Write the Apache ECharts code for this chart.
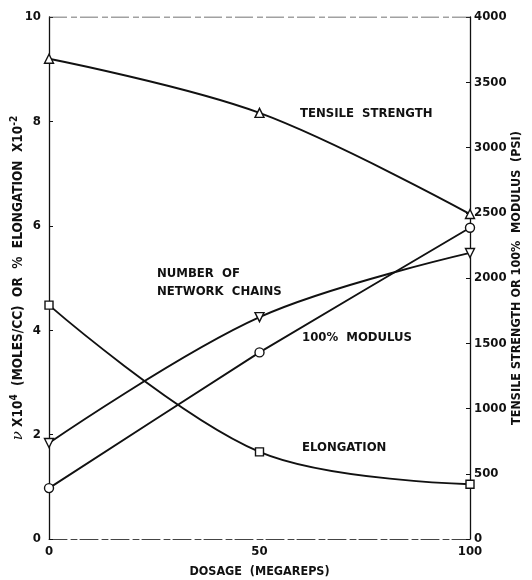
<!DOCTYPE html>
<html><head><meta charset="utf-8">
<script src="https://cdn.jsdelivr.net/npm/echarts@6/dist/echarts.min.js"></script>
<style>html,body{margin:0;padding:0;background:#fff}#c{width:532px;height:580px}</style>
</head><body><div id="c"></div>
<script>
const dosage = [0, 50, 100];
const tensileStrength = [3680, 3265, 2490];   // psi (right axis)
const modulus100 = [390, 1430, 2385];         // psi (right axis)
const networkChains = [1.84, 4.25, 5.48];     // v x10^4 (left axis)
const elongation = [4.48, 1.67, 1.05];        // % elongation x10^-2 (left axis)
const leftTicks = [0, 2, 4, 6, 8, 10];
const rightTicks = [0, 500, 1000, 1500, 2000, 2500, 3000, 3500, 4000];
const xTicks = [0, 50, 100];

const FONT = 'DejaVu Sans Condensed, DejaVu Sans, sans-serif';
const txt = {fontFamily: FONT, fontWeight: 'bold', fontSize: 12, color: '#111'};
const pts = arr => dosage.map((d, i) => [d, arr[i]]);
const mk = {color: '#fff', borderColor: '#111', borderWidth: 1.4};
const ln = {color: '#111', width: 1.9};

const chart = echarts.init(document.getElementById('c'));
chart.setOption({
  animation: false,
  backgroundColor: '#fff',
  grid: {left: 49, right: 62, top: 17, bottom: 41, containLabel: false, outerBoundsMode: 'none'},
  xAxis: {
    type: 'value', min: 0, max: 100, interval: 50,
    name: 'DOSAGE  (MEGAREPS)', nameLocation: 'middle', nameGap: 26, nameMoveOverlap: false,
    nameTextStyle: Object.assign({}, txt, {fontSize: 12.5}),
    axisLine: {lineStyle: {color: '#444', width: 1, type: [18, 4, 6, 3]}},
    axisTick: {show: false},
    axisLabel: Object.assign({}, txt, {fontSize: 13, margin: 6,
      formatter: v => xTicks.includes(v) ? String(v) : ''}),
    splitLine: {show: false}
  },
  yAxis: [{
    type: 'value', min: 0, max: 10, interval: 2,
    position: 'left',
    name: '{i|ν} X10{s|4}  (MOLES/CC)  OR  %  ELONGATION  X10{s|-2}',
    nameLocation: 'middle', nameGap: 22, nameRotate: 90, nameMoveOverlap: false,
    nameTextStyle: Object.assign({}, txt, {fontSize: 13.5,
      rich: {i: {fontFamily: 'DejaVu Serif', fontStyle: 'italic', fontSize: 15, fontWeight: 'normal', color: '#111'},
             s: {fontFamily: FONT, fontWeight: 'bold', fontSize: 10, color: '#111', verticalAlign: 'top', padding: [0, 0, 8, 0]}}}),
    axisLine: {show: true, lineStyle: {color: '#111', width: 1.3}},
    axisTick: {show: true, inside: true, length: 4, lineStyle: {color: '#111'}},
    axisLabel: Object.assign({}, txt, {fontSize: 13, margin: 8,
      formatter: v => leftTicks.includes(v) ? String(v) : ''}),
    splitLine: {show: false}
  }, {
    type: 'value', min: 0, max: 4000, interval: 500,
    position: 'right',
    name: 'TENSILE STRENGTH OR 100%  MODULUS  (PSI)',
    nameLocation: 'middle', nameGap: 40, nameRotate: 90, nameMoveOverlap: false,
    nameTextStyle: Object.assign({}, txt, {fontSize: 12.5}),
    axisLine: {show: true, lineStyle: {color: '#111', width: 1.3}},
    axisTick: {show: true, inside: true, length: 4, lineStyle: {color: '#111'}},
    axisLabel: Object.assign({}, txt, {fontSize: 13, margin: 4,
      formatter: v => rightTicks.includes(v) ? String(v) : ''}),
    splitLine: {show: false}
  }],
  series: [
    {name: 'TENSILE STRENGTH', type: 'line', yAxisIndex: 1, data: pts(tensileStrength), smooth: 0.35,
     symbol: 'triangle', symbolSize: 9, itemStyle: mk, lineStyle: ln, z: 3},
    {name: '100% MODULUS', type: 'line', yAxisIndex: 1, data: pts(modulus100), smooth: 0.1,
     symbol: 'circle', symbolSize: 9, itemStyle: mk, lineStyle: ln, z: 3},
    {name: 'NUMBER OF NETWORK CHAINS', type: 'line', yAxisIndex: 0, data: pts(networkChains), smooth: 0.35,
     symbol: 'triangle', symbolRotate: 180, symbolSize: 9, itemStyle: mk, lineStyle: ln, z: 3},
    {name: 'ELONGATION', type: 'line', yAxisIndex: 0, data: pts(elongation), smooth: 0.35,
     symbol: 'rect', symbolSize: 8, itemStyle: mk, lineStyle: ln, z: 3},
    {type: 'line', yAxisIndex: 0, data: [[0, 10], [100, 10]], symbol: 'none', silent: true,
     lineStyle: {color: '#444', width: 1, type: [18, 4, 6, 3]}, z: 1}
  ],
  graphic: [
    {type: 'text', left: 300, top: 107, style: {text: 'TENSILE  STRENGTH', fill: '#111', font: 'bold 13px ' + FONT}},
    {type: 'text', left: 157, top: 265, style: {text: 'NUMBER  OF\nNETWORK  CHAINS', fill: '#111', font: 'bold 13px ' + FONT, lineHeight: 18}},
    {type: 'text', left: 302, top: 331, style: {text: '100%  MODULUS', fill: '#111', font: 'bold 13px ' + FONT}},
    {type: 'text', left: 302, top: 441, style: {text: 'ELONGATION', fill: '#111', font: 'bold 13px ' + FONT}}
  ]
});
</script></body></html>
